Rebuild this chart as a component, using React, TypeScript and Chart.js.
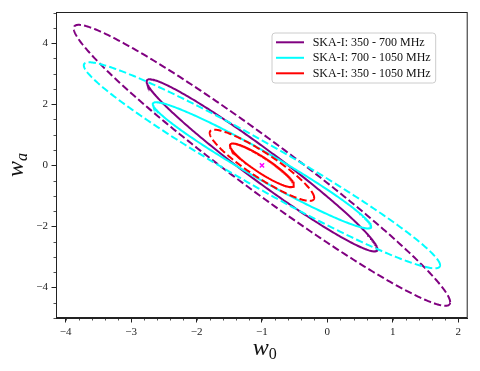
import React, { useEffect, useRef } from 'react';
import { Chart, registerables } from 'chart.js';

Chart.register(...registerables);

// ---- data ----
const seriesLabels = ['SKA-I: 350 - 700 MHz', 'SKA-I: 700 - 1050 MHz', 'SKA-I: 350 - 1050 MHz'];
const seriesColors = ['#800080', '#00ffff', '#ff0000'];
const fiducialW0 = [-1];
const fiducialWa = [0];
const sigmaW0 = [1.16, 1.098, 0.322];
const sigmaWa = [1.855, 1.36, 0.47];
const correlation = [-0.974, -0.97, -0.91];
const contourLevels = [1.52, 2.48]; // 1-sigma (solid), 2-sigma (dashed)
const xTicks = [-4, -3, -2, -1, 0, 1, 2];
const yTicks = [-4, -2, 0, 2, 4];
const xRange = [-4.148, 2.145];
const yRange = [-5.0, 5.02];
const xMinorStep = 0.2;
const yMinorStep = 0.5;

const SERIF = '"Liberation Serif", "DejaVu Serif", serif';

function ellipsePoints(i: number, level: number) {
  const pts: { x: number; y: number }[] = [];
  const n = 360;
  const s = Math.sqrt(1 - correlation[i] * correlation[i]);
  for (let k = 0; k <= n; k++) {
    const t = (2 * Math.PI * k) / n;
    pts.push({
      x: fiducialW0[0] + level * sigmaW0[i] * Math.cos(t),
      y: fiducialWa[0] + level * sigmaWa[i] * (correlation[i] * Math.cos(t) + s * Math.sin(t)),
    });
  }
  return pts;
}

const fmt = (v: number) => (v < 0 ? '\u2212' + Math.abs(v) : String(v));

const decorPlugin = {
  id: 'decor',
  afterDatasetsDraw(chart: any) {
    const { ctx, chartArea: ca } = chart;
    // legend
    const bx = ca.right - 195.7;
    const by = ca.top + 21;
    const bw = 163.7;
    const bh = 50;
    ctx.save();
    ctx.beginPath();
    const r = 3;
    ctx.moveTo(bx + r, by);
    ctx.lineTo(bx + bw - r, by);
    ctx.quadraticCurveTo(bx + bw, by, bx + bw, by + r);
    ctx.lineTo(bx + bw, by + bh - r);
    ctx.quadraticCurveTo(bx + bw, by + bh, bx + bw - r, by + bh);
    ctx.lineTo(bx + r, by + bh);
    ctx.quadraticCurveTo(bx, by + bh, bx, by + bh - r);
    ctx.lineTo(bx, by + r);
    ctx.quadraticCurveTo(bx, by, bx + r, by);
    ctx.closePath();
    ctx.fillStyle = 'rgba(255,255,255,0.8)';
    ctx.fill();
    ctx.strokeStyle = '#cccccc';
    ctx.lineWidth = 1;
    ctx.stroke();
    seriesLabels.forEach((lab, i) => {
      const yy = by + 9.3 + i * 15.5;
      ctx.beginPath();
      ctx.moveTo(bx + 4, yy);
      ctx.lineTo(bx + 32, yy);
      ctx.strokeStyle = seriesColors[i];
      ctx.lineWidth = 2;
      ctx.stroke();
      ctx.fillStyle = '#111';
      ctx.font = '12px ' + SERIF;
      ctx.textBaseline = 'middle';
      ctx.textAlign = 'left';
      ctx.fillText(lab, bx + 40.7, yy + 0.5);
    });
    ctx.restore();
  },
  afterDraw(chart: any) {
    const { ctx, chartArea: ca, scales } = chart;
    const xs = scales.x;
    const ys = scales.y;
    ctx.save();
    // frame top/right
    ctx.strokeStyle = '#222';
    ctx.lineWidth = 1;
    ctx.strokeRect(ca.left + 0.5, ca.top + 0.5, ca.right - ca.left - 1, ca.bottom - ca.top - 1);
    // minor ticks
    ctx.beginPath();
    for (let v = Math.ceil(xRange[0] / xMinorStep) * xMinorStep; v <= xRange[1]; v += xMinorStep) {
      const px = Math.round(xs.getPixelForValue(v)) + 0.5;
      ctx.moveTo(px, ca.bottom);
      ctx.lineTo(px, ca.bottom + 2.5);
    }
    for (let v = Math.ceil(yRange[0] / yMinorStep) * yMinorStep; v <= yRange[1]; v += yMinorStep) {
      const py = Math.round(ys.getPixelForValue(v)) + 0.5;
      ctx.moveTo(ca.left, py);
      ctx.lineTo(ca.left - 2.5, py);
    }
    ctx.lineWidth = 0.8;
    ctx.stroke();
    // axis titles
    ctx.fillStyle = '#111';
    ctx.textBaseline = 'alphabetic';
    ctx.textAlign = 'left';
    const drawTitle = (main: string, sub: string) => {
      ctx.font = 'italic 24px ' + SERIF;
      const wMain = ctx.measureText(main).width;
      ctx.font = 'italic 16px ' + SERIF;
      const wSub = ctx.measureText(sub).width;
      const total = wMain + wSub;
      ctx.font = 'italic 24px ' + SERIF;
      ctx.fillText(main, -total / 2, 0);
      ctx.font = (sub === '0' ? '' : 'italic ') + '16px ' + SERIF;
      ctx.fillText(sub, -total / 2 + wMain, 3.5);
    };
    ctx.save();
    ctx.translate((ca.left + ca.right) / 2 + 3, 355);
    drawTitle('w', '0');
    ctx.restore();
    ctx.save();
    ctx.translate(23, (ca.top + ca.bottom) / 2);
    ctx.rotate(-Math.PI / 2);
    drawTitle('w', 'a');
    ctx.restore();
    ctx.restore();
  },
};

export default function App() {
  const ref = useRef<HTMLCanvasElement | null>(null);
  useEffect(() => {
    if (!ref.current) return;
    const datasets: any[] = [
      {
        type: 'scatter',
        data: [{ x: fiducialW0[0], y: fiducialWa[0] }],
        pointStyle: 'crossRot',
        pointRadius: 3,
        borderColor: '#ff00ff',
        backgroundColor: '#ff00ff',
        borderWidth: 1.5,
        order: 0,
      },
    ];
    seriesLabels.forEach((lab, i) => {
      contourLevels.forEach((lev, j) => {
        datasets.push({
          type: 'scatter',
          label: lab,
          data: ellipsePoints(i, lev),
          showLine: true,
          pointRadius: 0,
          borderColor: seriesColors[i],
          backgroundColor: seriesColors[i],
          borderWidth: 2,
          borderDash: j === 1 ? [7.4, 3.2] : [],
          tension: 0,
          fill: false,
          order: 3 - i,
        });
      });
    });
    const chart = new Chart(ref.current, {
      type: 'scatter',
      data: { datasets },
      options: {
        animation: false,
        responsive: true,
        maintainAspectRatio: false,
        layout: { padding: { top: 12, right: 12.3, left: 0, bottom: 0 } },
        plugins: { legend: { display: false }, tooltip: { enabled: false } },
        scales: {
          x: {
            type: 'linear',
            min: xRange[0],
            max: xRange[1],
            afterBuildTicks: (s: any) => {
              s.ticks = xTicks.map((v) => ({ value: v }));
            },
            afterFit: (s: any) => {
              s.height = 53;
            },
            grid: { display: true, drawOnChartArea: false, drawTicks: true, tickLength: 4.5, color: '#222', lineWidth: 1 },
            border: { display: true, color: '#222', width: 1 },
            ticks: {
              callback: (v: any) => fmt(Number(v)),
              font: { family: SERIF, size: 11 },
              color: '#222',
              padding: 3,
              maxRotation: 0,
            },
          },
          y: {
            type: 'linear',
            min: yRange[0],
            max: yRange[1],
            afterBuildTicks: (s: any) => {
              s.ticks = yTicks.map((v) => ({ value: v }));
            },
            afterFit: (s: any) => {
              s.width = 56;
            },
            grid: { display: true, drawOnChartArea: false, drawTicks: true, tickLength: 4.5, color: '#222', lineWidth: 1 },
            border: { display: true, color: '#222', width: 1 },
            ticks: {
              callback: (v: any) => fmt(Number(v)),
              font: { family: SERIF, size: 11 },
              color: '#222',
              padding: 3.5,
            },
          },
        },
      },
      plugins: [decorPlugin],
    });
    return () => chart.destroy();
  }, []);
  return (
    <div style={{ position: 'fixed', left: 0, top: 0, width: 480, height: 371, background: '#fff' }}>
      <canvas ref={ref} />
    </div>
  );
}
